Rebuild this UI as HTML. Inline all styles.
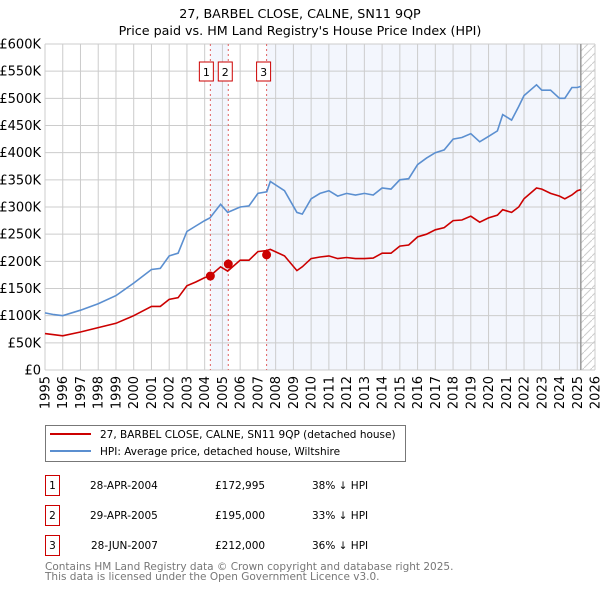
<!DOCTYPE html>
<html><head><meta charset="utf-8"><style>
body{margin:0;background:#fff;font-family:"DejaVu Sans","Liberation Sans",sans-serif;}
svg text{font-family:"DejaVu Sans","Liberation Sans",sans-serif;}
</style></head><body>
<svg id="c" width="600" height="590" xmlns="http://www.w3.org/2000/svg">
<defs><pattern id="hatch" width="8" height="8" patternUnits="userSpaceOnUse"><path d="M0,8 L8,0" stroke="#ccc" stroke-width="1"/></pattern></defs>
<text x="300" y="18" text-anchor="middle" font-size="12.7">27, BARBEL CLOSE, CALNE, SN11 9QP</text>
<text x="300" y="35" text-anchor="middle" font-size="12.7">Price paid vs. HM Land Registry's House Price Index (HPI)</text>
<g id="plot"></g>
<g>
<rect x="45.5" y="425.5" width="360" height="36" fill="#fff" stroke="#777"/>
<line x1="50" y1="434" x2="91" y2="434" stroke="#cc0000" stroke-width="2"/>
<text x="100" y="438" font-size="10.5">27, BARBEL CLOSE, CALNE, SN11 9QP (detached house)</text>
<line x1="50" y1="451" x2="91" y2="451" stroke="#5b8fd0" stroke-width="2"/>
<text x="100" y="455" font-size="10.5">HPI: Average price, detached house, Wiltshire</text>
</g>
<g font-size="10.5">
<rect x="45.5" y="475.5" width="14" height="20" fill="none" stroke="#cc0000"/><text x="52.5" y="489" text-anchor="middle">1</text>
<text x="90" y="489">28-APR-2004</text><text x="215" y="489">£172,995</text><text x="312" y="489">38% ↓ HPI</text>
<rect x="45.5" y="505.5" width="14" height="20" fill="none" stroke="#cc0000"/><text x="52.5" y="519" text-anchor="middle">2</text>
<text x="90" y="519">29-APR-2005</text><text x="215" y="519">£195,000</text><text x="312" y="519">33% ↓ HPI</text>
<rect x="45.5" y="535.5" width="14" height="20" fill="none" stroke="#cc0000"/><text x="52.5" y="549" text-anchor="middle">3</text>
<text x="91" y="549">28-JUN-2007</text><text x="215" y="549">£212,000</text><text x="312" y="549">36% ↓ HPI</text>
</g>
<text x="45" y="570" font-size="10.5" fill="#777">Contains HM Land Registry data © Crown copyright and database right 2025.</text>
<text x="45" y="580" font-size="10.5" fill="#777">This data is licensed under the Open Government Licence v3.0.</text>
</svg>
<script>
const yTicks=[0,50,100,150,200,250,300,350,400,450,500,550,600];
const yTickLabels=["£0","£50K","£100K","£150K","£200K","£250K","£300K","£350K","£400K","£450K","£500K","£550K","£600K"];
const years=[1995,1996,1997,1998,1999,2000,2001,2002,2003,2004,2005,2006,2007,2008,2009,2010,2011,2012,2013,2014,2015,2016,2017,2018,2019,2020,2021,2022,2023,2024,2025,2026];
const hpiT=[1995,1995.5,1996,1997,1998,1999,2000,2001,2001.5,2002,2002.5,2003,2003.5,2004,2004.3,2004.9,2005.3,2006,2006.5,2007,2007.5,2007.7,2008.5,2009.2,2009.5,2010,2010.5,2011,2011.5,2012,2012.5,2013,2013.5,2014,2014.5,2015,2015.5,2016,2016.5,2017,2017.5,2018,2018.5,2019,2019.5,2020,2020.5,2020.8,2021.3,2021.7,2022,2022.7,2023,2023.5,2024,2024.3,2024.7,2025,2025.2];
const hpiV=[105,102,100,110,122,137,160,185,187,210,215,255,265,275,280,305,290,300,302,325,328,347,330,290,287,315,325,330,320,325,322,325,322,335,333,350,352,378,390,400,405,425,428,435,420,430,440,470,460,485,505,525,515,515,500,500,520,520,522];
const ppT=[1995,1995.5,1996,1997,1998,1999,2000,2001,2001.5,2002,2002.5,2003,2003.5,2004,2004.3,2004.9,2005.3,2006,2006.5,2007,2007.5,2007.7,2008.5,2009.2,2009.5,2010,2010.5,2011,2011.5,2012,2012.5,2013,2013.5,2014,2014.5,2015,2015.5,2016,2016.5,2017,2017.5,2018,2018.5,2019,2019.5,2020,2020.5,2020.8,2021.3,2021.7,2022,2022.7,2023,2023.5,2024,2024.3,2024.7,2025,2025.2];
const ppV=[67,65,63,70,78,86,100,117,117,130,133,155,162,170,173,190,182,202,202,218,220,222,210,183,190,205,208,210,205,207,205,205,206,215,215,228,230,245,250,258,262,275,276,283,272,280,285,295,290,300,315,335,333,325,320,315,322,330,332];
const saleT=[2004.32,2005.33,2007.49];
const saleV=[172.995,195,212];
const saleLabels=["1","2","3"];
const NS='http://www.w3.org/2000/svg';
const L=45,R=595,T=44,B=370;
const X=t=>L+(t-1995)/(2026-1995)*(R-L);
const Y=v=>B-v/600*(B-T);
const g=document.getElementById('plot');
function mk(tag,attrs,parent){const e=document.createElementNS(NS,tag);for(const k in attrs)e.setAttribute(k,attrs[k]);(parent||g).appendChild(e);return e;}
let s=mk('rect',{x:X(saleT[0]),y:T,width:X(saleT[1])-X(saleT[0]),height:B-T,fill:'#f3f6fd'});


s=mk('rect',{x:X(saleT[2]),y:T,width:X(2025.2)-X(saleT[2]),height:B-T,fill:'#f3f6fd'});


s=mk('rect',{x:X(2025.2),y:T,width:R-X(2025.2),height:B-T,fill:'url(#hatch)'});


years.forEach(yr=>{const l=mk('line',{x1:X(yr),x2:X(yr),y1:T,y2:B,stroke:'#ccc'});


const t=mk('text',{x:0,y:0,'font-size':13,'text-anchor':'end',transform:`translate(${X(yr)+4.5},${B+6}) rotate(-90)`});t.textContent=yr;

});
yTicks.forEach((v,i)=>{const l=mk('line',{x1:L,x2:R,y1:Y(v),y2:Y(v),stroke:'#ccc'});


const t=mk('text',{x:L-4,y:Y(v)+4.5,'font-size':13,'text-anchor':'end'});t.textContent=yTickLabels[i];

});
let vl=mk('line',{x1:X(2025.2),x2:X(2025.2),y1:T,y2:B,stroke:'#999','stroke-width':1.5});


saleT.forEach((t,i)=>{const l=mk('line',{x1:X(t),x2:X(t),y1:T,y2:B,stroke:'#e06060','stroke-dasharray':'2,3'});


const cx=i==0?X(t)-4:X(t)-3;
const r=mk('rect',{x:cx-7,y:T+18,width:14,height:19,fill:'#fff',stroke:'#cc0000'});


const tx=mk('text',{x:cx,y:T+32,'font-size':11,'text-anchor':'middle'});tx.textContent=saleLabels[i];

});
const path=(ts,vs)=>ts.map((t,i)=>(i?'L':'M')+X(t).toFixed(1)+','+Y(vs[i]).toFixed(1)).join(' ');
let p=mk('path',{d:path(hpiT,hpiV),fill:'none',stroke:'#5b8fd0','stroke-width':1.6});


p=mk('path',{d:path(ppT,ppV),fill:'none',stroke:'#cc0000','stroke-width':1.6});


saleT.forEach((t,i)=>{const c=mk('circle',{cx:X(t),cy:Y(saleV[i]),r:4.5,fill:'#cc0000'});

});
</script>
</body></html>
